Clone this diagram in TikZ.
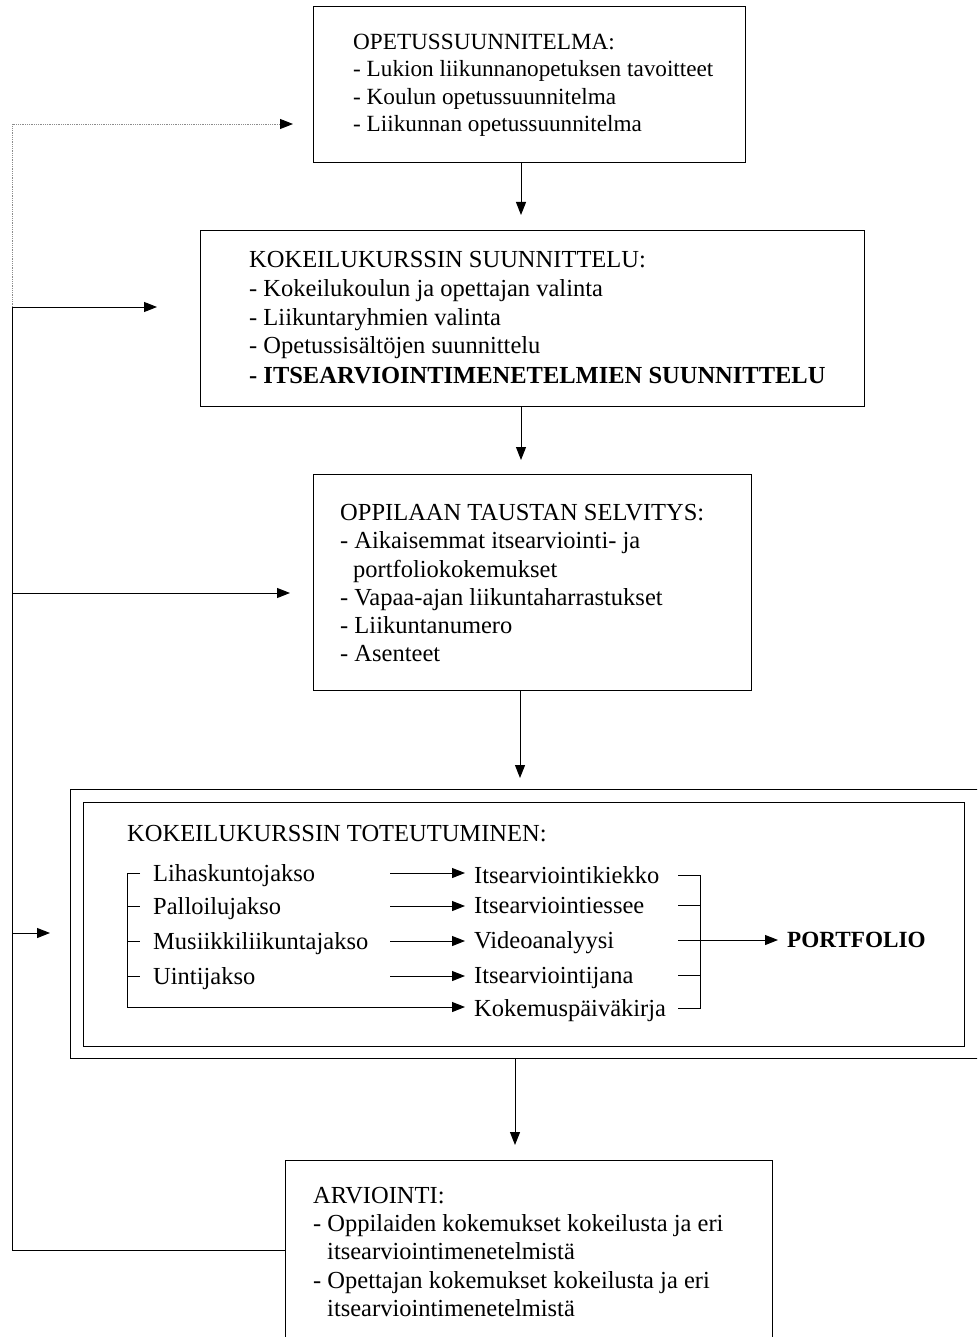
\documentclass[tikz,border=0pt]{standalone}
\usepackage{fontspec}
\setmainfont{Liberation Serif}
\usetikzlibrary{arrows.meta,calc}
\begin{document}
\begin{tikzpicture}[x=1pt,y=-1pt,
  box/.style={draw, line width=0.9pt, inner sep=0pt, anchor=north west},
  txt/.style={anchor=base west, inner sep=0pt, font=\fontsize{24.5}{28}\selectfont},
  txta/.style={anchor=base west, inner sep=0pt, font=\fontsize{23.2}{28}\selectfont},
  ln/.style={line width=1pt},
  dotln/.style={line width=0.8pt, densely dotted, black!45},
  arr/.style={line width=1pt, -{Triangle[length=13pt,width=10pt]}},
]
\useasboundingbox (0,0) rectangle (977,1337);
\clip (0,0) rectangle (977,1337);

% boxes
\node[box, minimum width=432pt, minimum height=156pt] (b1) at (313,6) {};
\node[box, minimum width=664pt, minimum height=176pt] (b2) at (200,230) {};
\node[box, minimum width=438pt, minimum height=216pt] (b3) at (313,474) {};
\node[box, minimum width=930pt, minimum height=269pt] (b4) at (70,789) {};
\node[box, minimum width=881pt, minimum height=244pt] (b4i) at (83,802) {};
\node[box, minimum width=487pt, minimum height=200pt] (b5) at (285,1160) {};

% box 1 text
\node[txta] (t1a) at (353,50) {OPETUSSUUNNITELMA:};
\node[txta] (t1b) at (353,77) {- Lukion liikunnanopetuksen tavoitteet};
\node[txta] (t1c) at (353,105) {- Koulun opetussuunnitelma};
\node[txta] (t1d) at (353,132) {- Liikunnan opetussuunnitelma};

% box 2 text
\node[txt] (t2a) at (249,268) {KOKEILUKURSSIN SUUNNITTELU:};
\node[txt] (t2b) at (249,297) {- Kokeilukoulun ja opettajan valinta};
\node[txt] (t2c) at (249,325) {- Liikuntaryhmien valinta};
\node[txt] (t2d) at (249,353) {- Opetussisältöjen suunnittelu};
\node[txt] (t2e) at (249,383) {\bfseries - ITSEARVIOINTIMENETELMIEN SUUNNITTELU};

% box 3 text
\node[txt] (t3a) at (340,520) {OPPILAAN TAUSTAN SELVITYS:};
\node[txt] (t3b) at (340,548) {- Aikaisemmat itsearviointi- ja};
\node[txt] (t3c) at (353,577) {portfoliokokemukset};
\node[txt] (t3d) at (340,605) {- Vapaa-ajan liikuntaharrastukset};
\node[txt] (t3e) at (340,633) {- Liikuntanumero};
\node[txt] (t3f) at (340,661) {- Asenteet};

% box 4 text
\node[txt] (t4) at (127,841) {KOKEILUKURSSIN TOTEUTUMINEN:};
\node[txt] (l1) at (153,881) {Lihaskuntojakso};
\node[txt] (l2) at (153,914) {Palloilujakso};
\node[txt] (l3) at (153,949) {Musiikkiliikuntajakso};
\node[txt] (l4) at (153,984) {Uintijakso};
\node[txt] (r1) at (474,883) {Itsearviointikiekko};
\node[txt] (r2) at (474,913) {Itsearviointiessee};
\node[txt] (r3) at (474,948) {Videoanalyysi};
\node[txt] (r4) at (474,983) {Itsearviointijana};
\node[txt] (r5) at (474,1016) {Kokemuspäiväkirja};
\node[txta] (pf) at (787,947) {\bfseries PORTFOLIO};

% box 5 text
\node[txt] (t5a) at (313,1203) {ARVIOINTI:};
\node[txt] (t5b) at (313,1231) {- Oppilaiden kokemukset kokeilusta ja eri};
\node[txt] (t5c) at (327,1259) {itsearviointimenetelmistä};
\node[txt] (t5d) at (313,1288) {- Opettajan kokemukset kokeilusta ja eri};
\node[txt] (t5e) at (327,1316) {itsearviointimenetelmistä};

% vertical flow arrows
\coordinate (c1) at (521,0);
\coordinate (c3) at (520,0);
\coordinate (c4) at (515,0);
\draw[arr, shorten >=15pt] (b1.south -| c1) -- (b2.north -| c1);
\draw[arr, shorten >=14pt] (b2.south -| c1) -- (b3.north -| c1);
\draw[arr, shorten >=11pt] (b3.south -| c3) -- (b4.north -| c3);
\draw[arr, shorten >=15pt] (b4.south -| c4) -- (b5.north -| c4);

% feedback loop on the left
\coordinate (f0) at (12,124);
\coordinate (f1) at (12,307);
\coordinate (f2) at (12,593);
\coordinate (f3) at (12,933);
\coordinate (f4) at (12,1250);
\draw[ln] (b5.west |- f4) -- (f4) -- (f1);
\draw[dotln] (f1) -- (f0) -- ($(b1.west |- f0)+(-22,0)$);
\draw[arr, shorten >=20pt] ($(b1.west |- f0)+(-30,0)$) -- (b1.west |- f0);
\draw[arr, shorten >=43pt] (f1) -- (b2.west |- f1);
\draw[arr, shorten >=23pt] (f2) -- (b3.west |- f2);
\draw[arr, shorten >=20pt] (f3) -- (b4.west |- f3);

% left bracket
\draw[ln] (140,873) -- (127,873) -- (127,1007);
\draw[ln] (127,906) -- (140,906);
\draw[ln] (127,941) -- (140,941);
\draw[ln] (127,976) -- (140,976);
\draw[arr, shorten >=9pt] (127,1007) -- (r5.west |- 0,1007);

% middle arrows
\draw[arr, shorten >=9pt] (390,873) -- (r1.west |- 0,873);
\draw[arr, shorten >=9pt] (390,906) -- (r2.west |- 0,906);
\draw[arr, shorten >=9pt] (390,941) -- (r3.west |- 0,941);
\draw[arr, shorten >=9pt] (390,976) -- (r4.west |- 0,976);

% right bracket
\draw[ln] (678,875) -- (700,875) -- (700,1008) -- (678,1008);
\draw[ln] (678,905) -- (700,905);
\draw[ln] (678,940) -- (700,940);
\draw[ln] (678,975) -- (700,975);
\draw[arr, shorten >=9pt] (700,940) -- (pf.west |- 0,940);
\end{tikzpicture}
\end{document}
